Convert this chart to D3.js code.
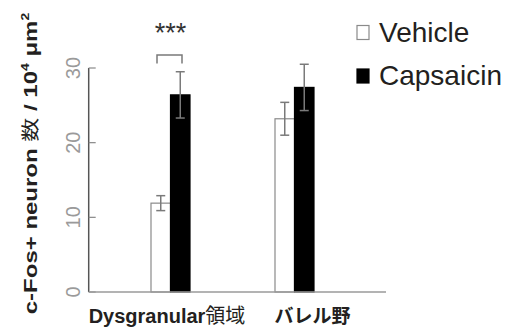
<!DOCTYPE html>
<html><head><meta charset="utf-8">
<script src="https://cdn.jsdelivr.net/npm/d3@7"></script>
<style>body{margin:0;background:#fff}svg{display:block}</style>
</head><body>
<svg id="c" width="508" height="328"></svg>
<script>
const categories = ["Dysgranular", "バレル野"];
const categorySuffix = ["領域", ""];
const series = ["Vehicle", "Capsaicin"];
const vehicleValues = [11.9, 23.2];
const vehicleErrors = [1.0, 2.2];
const capsaicinValues = [26.4, 27.4];
const capsaicinErrors = [3.1, 3.1];
const yTicks = [0, 10, 20, 30];
const significance = ["***", ""];

const values = [vehicleValues, capsaicinValues];
const errors = [vehicleErrors, capsaicinErrors];

const svg = d3.select("#c");
const FONT = "'Liberation Sans', Arial, 'Noto Sans CJK JP', sans-serif";
const CJK = "'Noto Sans CJK JP', sans-serif";

const y = d3.scaleLinear().domain([0, 30]).range([292, 68]);
const x = d3.scalePoint().domain(categories).range([170.5, 294.5]);
const xs = d3.scaleBand().domain(series).range([-19.5, 19.5]);
const axisX = 88.7, axisRight = 386;

// y axis line
svg.append("line").attr("x1", axisX).attr("x2", axisX)
  .attr("y1", y(30)).attr("y2", y(0))
  .attr("stroke", "#555").attr("stroke-width", 1.5);
// ticks (inward)
svg.selectAll(".tk").data(yTicks).join("line")
  .attr("x1", axisX).attr("x2", axisX + 7)
  .attr("y1", d => y(d)).attr("y2", d => y(d))
  .attr("stroke", "#888").attr("stroke-width", 1.2);
svg.selectAll(".tl").data(yTicks).join("text")
  .attr("transform", d => `translate(80,${y(d)}) rotate(-90)`)
  .attr("text-anchor", "middle")
  .attr("font-family", FONT).attr("font-size", 20)
  .attr("fill", "#9a9a9a").text(d => d);

// y title
const yt = svg.append("text")
  .attr("transform", "translate(36.5,163.5) rotate(-90) scale(1,0.76)")
  .attr("text-anchor", "middle")
  .attr("font-family", FONT).attr("font-size", 24).attr("font-weight", "bold")
  .attr("fill", "#231f20");
yt.append("tspan").text("c-Fos+ neuron ");
yt.append("tspan").attr("font-family", CJK).attr("font-weight", "normal").text("数");
yt.append("tspan").text(" / 10");
yt.append("tspan").attr("font-size", 14).attr("dy", -10).text("4");
yt.append("tspan").attr("dy", 10).text(" μm");
yt.append("tspan").attr("font-size", 14).attr("dy", -10).text("2");

// bars
series.forEach((s, si) => {
  svg.selectAll(".b" + si).data(categories).join("rect")
    .attr("x", c => x(c) + xs(s))
    .attr("width", xs.bandwidth())
    .attr("y", (c, i) => y(values[si][i]))
    .attr("height", (c, i) => y(0) - y(values[si][i]))
    .attr("fill", si === 0 ? "#fff" : "#000")
    .attr("stroke", si === 0 ? "#8a8a8a" : "#000")
    .attr("stroke-width", 1.2);
});
// x axis baseline
svg.append("line").attr("x1", axisX).attr("x2", axisRight)
  .attr("y1", y(0)).attr("y2", y(0))
  .attr("stroke", "#9a9a9a").attr("stroke-width", 1.5);

// error bars
series.forEach((s, si) => {
  categories.forEach((c, i) => {
    const cx = x(c) + xs(s) + xs.bandwidth() / 2;
    const lo = y(values[si][i] - errors[si][i]);
    const hi = y(values[si][i] + errors[si][i]);
    const g = svg.append("g").attr("stroke", "#7a7a7a").attr("stroke-width", 1.5);
    g.append("line").attr("x1", cx).attr("x2", cx).attr("y1", lo).attr("y2", hi);
    g.append("line").attr("x1", cx - 4.5).attr("x2", cx + 4.5).attr("y1", lo).attr("y2", lo);
    g.append("line").attr("x1", cx - 4.5).attr("x2", cx + 4.5).attr("y1", hi).attr("y2", hi);
  });
});

// significance
categories.forEach((c, i) => {
  if (!significance[i]) return;
  const c0 = x(c) - 13.5, c1 = x(c) + 11.5;
  svg.append("path")
    .attr("d", `M${c0},63.5 V55 H${c1} V63.5`)
    .attr("fill", "none").attr("stroke", "#7a7a7a").attr("stroke-width", 1.5);
  svg.append("text").attr("x", x(c)).attr("y", 41.5)
    .attr("text-anchor", "middle")
    .attr("font-family", FONT).attr("font-size", 27)
    .attr("fill", "#333").text(significance[i]);
});

// x labels
const labelOffsets = [-3.5, 18];
categories.forEach((c, i) => {
  const t = svg.append("text").attr("x", x(c) + labelOffsets[i]).attr("y", 323)
    .attr("text-anchor", "middle").attr("font-size", i === 0 ? 20 : 19)
    .attr("fill", "#231f20");
  t.append("tspan").attr("font-family", i === 0 ? FONT : CJK)
    .attr("font-weight", "bold").text(c);
  if (categorySuffix[i]) t.append("tspan").attr("font-family", CJK)
    .attr("font-weight", "normal").text(categorySuffix[i]);
});

// legend
series.forEach((s, si) => {
  const ly = si === 0 ? 25.5 : 69;
  svg.append("rect").attr("x", 357).attr("y", ly).attr("width", 12).attr("height", 14)
    .attr("fill", si === 0 ? "#fff" : "#000")
    .attr("stroke", si === 0 ? "#8a8a8a" : "#000").attr("stroke-width", 1.2);
  svg.append("text").attr("x", 379).attr("y", ly + 16)
    .attr("font-family", FONT).attr("font-size", 28)
    .attr("fill", "#231f20").text(s);
});
</script>
</body></html>
